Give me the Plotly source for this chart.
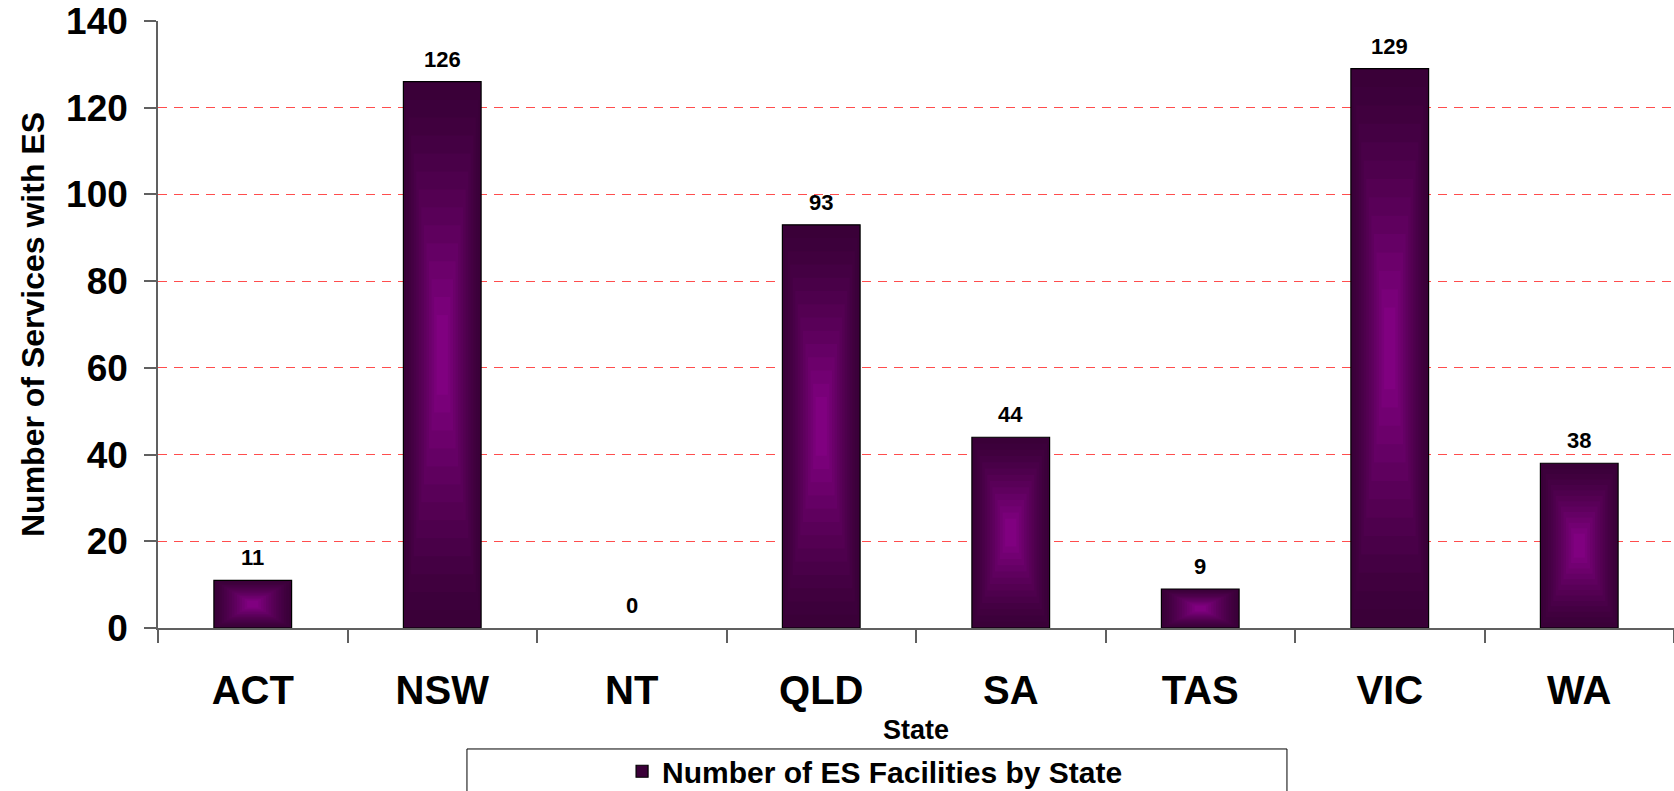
import plotly.graph_objects as go

states = ["ACT", "NSW", "NT", "QLD", "SA", "TAS", "VIC", "WA"]
facilities = [11, 126, 0, 93, 44, 9, 129, 38]
series_name = "Number of ES Facilities by State"
y_ticks = [0, 20, 40, 60, 80, 100, 120, 140]

FONT = "Liberation Sans, Arial, Helvetica, sans-serif"
BAR_W = 0.41
N_LAYERS = 14
DARK = (58, 0, 56)
BRIGHT = (128, 0, 128)


def mix(t):
    r = [round(DARK[i] + (BRIGHT[i] - DARK[i]) * t) for i in range(3)]
    return f"rgb({r[0]},{r[1]},{r[2]})"


fig = go.Figure()

# concentric layers to imitate the rectangular gradient fill
for k in range(N_LAYERS):
    f = 0.92 * k / N_LAYERS
    t = k / (N_LAYERS - 1)
    fig.add_trace(go.Bar(
        x=states,
        y=[v * (1 - f) if v else None for v in facilities],
        base=[v * f / 2 for v in facilities],
        width=BAR_W * (1 - f),
        name=series_name,
        showlegend=(k == 0),
        marker=dict(color=mix(t ** 1.3),
                    line=dict(color="black", width=1.2 if k == 0 else 0)),
        hoverinfo="skip" if k else None,
    ))

for s, v in zip(states, facilities):
    fig.add_annotation(x=s, y=v, text=str(v), showarrow=False,
                       yanchor="bottom", yshift=8,
                       font=dict(family=FONT, size=22, color="black", weight="bold"))

# legend border
fig.add_shape(type="rect", xref="paper", yref="paper",
              x0=0.2038, x1=0.7447, y0=-0.30, y1=-0.1993,
              line=dict(color="black", width=1), fillcolor="rgba(0,0,0,0)")

fig.update_layout(
    width=1674, height=791,
    margin=dict(l=158, r=0, t=21, b=163, autoexpand=False),
    plot_bgcolor="white", paper_bgcolor="white",
    barmode="overlay",
    font=dict(family=FONT, color="black"),
    showlegend=True,
    legend=dict(orientation="h", x=0.473, xanchor="center",
                y=-0.236, yanchor="middle",
                font=dict(family=FONT, size=30, color="black", weight="bold"),
                bgcolor="rgba(0,0,0,0)", borderwidth=0),
    xaxis=dict(
        title=dict(text="State", standoff=9,
                   font=dict(family=FONT, size=27, color="black", weight="bold")),
        tickfont=dict(family=FONT, size=40, color="black", weight="bold"),
        tickson="boundaries", ticks="outside", ticklen=13, tickwidth=1.5,
        tickcolor="#606060", showline=True, linecolor="#606060", linewidth=1.5,
        showgrid=False, ticklabelstandoff=26, automargin=False,
    ),
    yaxis=dict(
        title=dict(text="Number of Services with ES", standoff=12,
                   font=dict(family=FONT, size=32, color="black", weight="bold")),
        range=[0, 140], tickvals=y_ticks,
        tickfont=dict(family=FONT, size=37, color="black", weight="bold"),
        ticks="outside", ticklen=12, tickwidth=1.5, tickcolor="#606060",
        showline=True, linecolor="#606060", linewidth=1.5,
        showgrid=True, gridcolor="#ff4d4d", gridwidth=1, griddash="9px,7px",
        zeroline=False, ticklabelstandoff=9, ticklabeloverflow="allow",
        automargin=False,
    ),
)

# remove the browser's default 8px body margin so the figure fills the window
fig.write_html("out.html", config={"displayModeBar": False},
               post_script="document.body.style.margin='0';")
